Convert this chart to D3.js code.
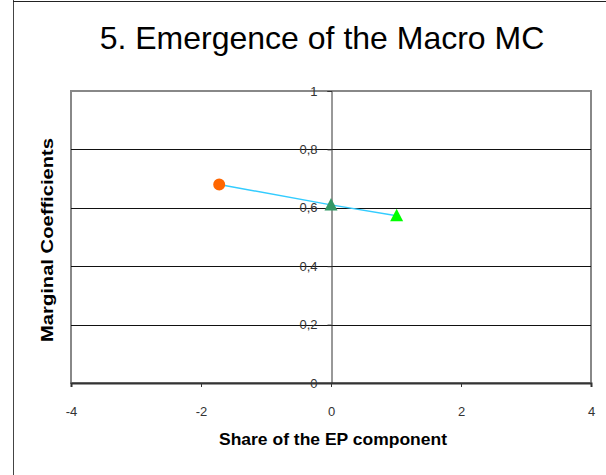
<!DOCTYPE html>
<html><head><meta charset="utf-8">
<script src="https://cdn.jsdelivr.net/npm/d3@7"></script>
<style>body{margin:0;background:#fff;}svg{display:block;font-family:"Liberation Sans",Arial,sans-serif;}</style>
</head><body>
<svg id="c" width="606" height="475"></svg>
<script>
const title = "5. Emergence of the Macro MC";
const xLabel = "Share of the EP component";
const yLabel = "Marginal Coefficients";
const xTicks = [-4, -2, 0, 2, 4];
const xTickLabels = ["-4", "-2", "0", "2", "4"];
const yTicks = [0, 0.2, 0.4, 0.6, 0.8, 1];
const yTickLabels = ["0", "0,2", "0,4", "0,6", "0,8", "1"];
const pointX = [-1.72, 0, 1.01];
const pointY = [0.68, 0.61, 0.573];
const pointShape = ["circle", "triangle", "triangle"];
const pointColor = ["#FF6600", "#339966", "#00FF00"];

const svg = d3.select("#c");
const x = d3.scaleLinear().domain([-4, 4]).range([71, 591]);
const y = d3.scaleLinear().domain([0, 1]).range([383, 91]);

// outer frame
svg.append("line").attr("x1",13.5).attr("x2",13.5).attr("y1",0).attr("y2",475).attr("stroke","#444").attr("stroke-width",1);
svg.append("line").attr("x1",13).attr("x2",606).attr("y1",1.5).attr("y2",1.5).attr("stroke","#222").attr("stroke-width",1);

svg.append("text").attr("x",322).attr("y",49).attr("text-anchor","middle")
  .attr("font-size",32).attr("fill","#000").text(title);

// plot border
svg.append("rect").attr("x",71).attr("y",91).attr("width",520).attr("height",292)
  .attr("fill","none").attr("stroke","#888").attr("stroke-width",2);

// gridlines
svg.append("g").selectAll("line").data(yTicks.filter(d=>d>0 && d<1)).join("line")
  .attr("x1",71).attr("x2",591).attr("y1",d=>Math.round(y(d))+0.5).attr("y2",d=>Math.round(y(d))+0.5)
  .attr("stroke","#111").attr("stroke-width",1);

// x axis at y=0
const xAxis = d3.axisBottom(x).tickValues(xTicks).tickSize(4).tickPadding(20).tickFormat((d,i)=>xTickLabels[i]);
const gx = svg.append("g").attr("transform",`translate(0,${y(0)})`).call(xAxis);
gx.attr("font-size",null).attr("font-family",null);
gx.select(".domain").attr("stroke","#333").attr("stroke-width",2);
gx.selectAll(".tick line").attr("stroke","#333");
gx.selectAll(".tick text").style("font-size","13px").attr("fill","#333");

// y axis at x=0
const yAxis = d3.axisLeft(y).tickValues(yTicks).tickSize(4).tickPadding(10).tickFormat((d,i)=>yTickLabels[i]);
const gy = svg.append("g").attr("transform",`translate(${Math.round(x(0))+0.5},0)`).call(yAxis);
gy.attr("font-size",null).attr("font-family",null);
gy.select(".domain").attr("stroke","#333").attr("stroke-width",1);
gy.selectAll(".tick line").attr("stroke","#333");
gy.selectAll(".tick text").style("font-size","13px").attr("fill","#333");

// line
const pts = pointX.map((d,i)=>({x:d,y:pointY[i],shape:pointShape[i],color:pointColor[i]}));
svg.append("path").datum(pts).attr("fill","none").attr("stroke","#33CCFF").attr("stroke-width",1.5)
  .attr("d", d3.line().x(d=>x(d.x)).y(d=>y(d.y)));

svg.append("g").selectAll("path").data(pts).join("path")
  .attr("transform",d=>`translate(${x(d.x)},${y(d.y)})`)
  .attr("d",d=> d.shape==="circle" ? d3.symbol(d3.symbolCircle,113)() : "M0,-7L6.5,5.5L-6.5,5.5Z")
  .attr("fill",d=>d.color);

// axis titles
svg.append("text").attr("x",333).attr("y",445).attr("text-anchor","middle")
  .attr("font-size",17).attr("font-weight","bold").attr("fill","#000")
  .attr("textLength",228).attr("lengthAdjust","spacingAndGlyphs").text(xLabel);
svg.append("text").attr("transform","translate(53,240) rotate(-90)").attr("text-anchor","middle")
  .attr("font-size",17).attr("font-weight","bold").attr("fill","#000")
  .attr("textLength",204).attr("lengthAdjust","spacingAndGlyphs").text(yLabel);
</script>
</body></html>
